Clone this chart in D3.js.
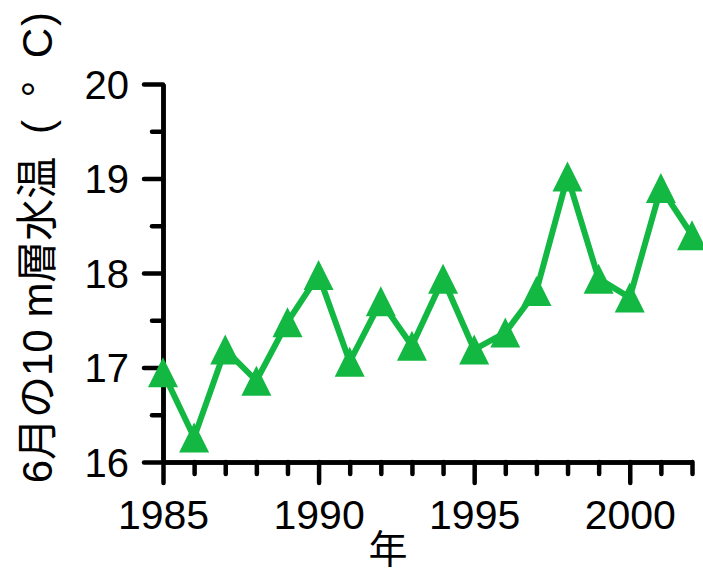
<!DOCTYPE html>
<html><head><meta charset="utf-8">
<script src="https://cdn.jsdelivr.net/npm/d3@7"></script>
<style>body{margin:0;background:#fff}</style>
</head><body>
<svg id="chart" width="703" height="572"></svg>
<script>
const years = [1985,1986,1987,1988,1989,1990,1991,1992,1993,1994,1995,1996,1997,1998,1999,2000,2001,2002];
const temps = [16.95,16.26,17.19,16.86,17.48,17.98,17.06,17.70,17.23,17.94,17.19,17.37,17.81,19.02,17.94,17.74,18.90,18.40];
const yMajorTicks = [16,17,18,19,20];
const yMinorTicks = [16.5,17.5,18.5,19.5];
const xMajorTicks = [1985,1990,1995,2000];
const xMinorTicks = [1986,1987,1988,1989,1991,1992,1993,1994,1996,1997,1998,1999,2001,2002];
const yTitleMain = "6月の10 m層水温";
const yTitleUnit = ["(","°","C",")"];
const xTitle = "年";

const svg = d3.select("#chart");
const x = d3.scaleLinear().domain([1985,2002]).range([163,692]);
const y = d3.scaleLinear().domain([16,20]).range([462,84]);
const green = "#13b843";
const font = "'Liberation Sans', Arial, 'Noto Sans CJK JP', sans-serif";

// axes
const axW = 4.5;
const yMaj = svg.append("g").attr("transform","translate(163,0)")
  .call(d3.axisLeft(y).tickValues(yMajorTicks).tickSize(19).tickSizeOuter(0).tickFormat(d3.format("d")));
const yMin = svg.append("g").attr("transform","translate(163,0)")
  .call(d3.axisLeft(y).tickValues(yMinorTicks).tickSize(11).tickSizeOuter(0).tickFormat(""));
const xMaj = svg.append("g").attr("transform","translate(0,462)")
  .call(d3.axisBottom(x).tickValues(xMajorTicks).tickSize(21).tickSizeOuter(0).tickFormat(d3.format("d")));
const xMin = svg.append("g").attr("transform","translate(0,462)")
  .call(d3.axisBottom(x).tickValues(xMinorTicks).tickSize(12).tickSizeOuter(0).tickFormat(""));
[yMaj,yMin,xMaj,xMin].forEach(g=>{
  g.selectAll("path.domain").attr("stroke","#000").attr("stroke-width",axW);
  g.selectAll(".tick line").attr("stroke","#000").attr("stroke-width",axW).attr("stroke-linecap","round");
});
yMaj.selectAll(".tick text").attr("x",-34).attr("dy","0.36em")
  .attr("font-family",font).attr("font-size",40).attr("fill","#000").attr("text-anchor","end");
xMaj.selectAll(".tick text").attr("y",67).attr("dy",0)
  .attr("font-family",font).attr("font-size",41).attr("fill","#000").attr("text-anchor","middle");

// line
svg.append("path")
  .datum(years.map((d,i)=>[d,temps[i]]))
  .attr("fill","none").attr("stroke",green).attr("stroke-width",6)
  .attr("stroke-linejoin","miter")
  .attr("d", d3.line().x(d=>x(d[0])).y(d=>y(d[1])));

// triangles
svg.selectAll("path.tri").data(years.map((d,i)=>[d,temps[i]])).join("path")
  .attr("class","tri").attr("fill",green)
  .attr("d", d=>{const cx=x(d[0]), cy=y(d[1]), h=15;
    return `M${cx},${cy-h}L${cx+h},${cy+h}L${cx-h},${cy+h}Z`;});

// y title: main part + spaced unit characters
const title = svg.append("g").attr("font-family",font).attr("font-size",42).attr("fill","#000");
title.append("text").attr("transform","translate(52,320) rotate(-90)")
  .attr("text-anchor","middle").text(yTitleMain);
const unitCenters = [127, 89, 43, 19];
yTitleUnit.forEach((c,i)=>{
  title.append("text").attr("transform",`translate(52,${unitCenters[i]}) rotate(-90)`)
    .attr("text-anchor","middle").text(c);
});

svg.append("text").attr("x",388).attr("y",563).attr("text-anchor","middle")
  .attr("font-family",font).attr("font-size",39).attr("fill","#000").text(xTitle);
</script>
</body></html>
